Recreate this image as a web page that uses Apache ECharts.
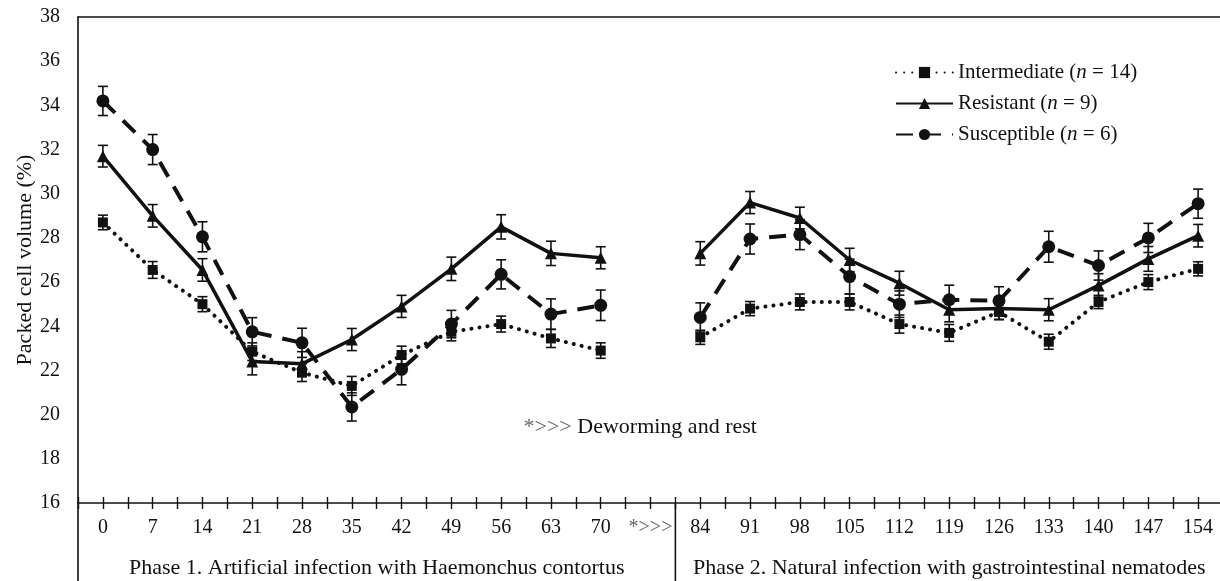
<!DOCTYPE html>
<html>
<head>
<meta charset="utf-8">
<script src="https://cdn.jsdelivr.net/npm/echarts@6/dist/echarts.min.js"></script>
<style>
  html, body { margin: 0; padding: 0; background: #fff; }
  #chart { width: 1220px; height: 581px; }
</style>
</head>
<body>
<div id="chart"></div>
<script>
// days post infection, the *>>> slot is the deworming gap
const categories = ['0', '7', '14', '21', '28', '35', '42', '49', '56', '63', '70', '*>>>',
  '84', '91', '98', '105', '112', '119', '126', '133', '140', '147', '154']

const intermediate = [28.7, 26.55, 25.0, 22.85, 21.9, 21.3, 22.7, 23.75, 24.1, 23.45, 22.9, null,
  23.5, 24.8, 25.1, 25.1, 24.1, 23.7, 24.65, 23.3, 25.1, 26.0, 26.6]
const intermediateErr = [0.33, 0.38, 0.34, 0.4, 0.4, 0.43, 0.4, 0.41, 0.36, 0.41, 0.35, null,
  0.32, 0.32, 0.36, 0.36, 0.41, 0.38, 0.34, 0.34, 0.3, 0.34, 0.32]

const resistant = [31.7, 29.0, 26.55, 22.4, 22.3, 23.4, 24.9, 26.6, 28.5, 27.3, 27.1, null,
  27.3, 29.6, 28.9, 27.0, 25.95, 24.75, 24.8, 24.75, 25.85, 27.05, 28.1]
const resistantErr = [0.49, 0.51, 0.51, 0.6, 0.55, 0.5, 0.5, 0.53, 0.55, 0.55, 0.5, null,
  0.53, 0.5, 0.49, 0.53, 0.54, 0.55, 0.5, 0.5, 0.53, 0.56, 0.51]

const susceptible = [34.2, 32.0, 28.05, 23.75, 23.25, 20.35, 22.05, 24.1, 26.35, 24.55, 24.95, null,
  24.4, 27.95, 28.15, 26.25, 25.0, 25.2, 25.15, 27.6, 26.75, 28.0, 29.55]
const susceptibleErr = [0.66, 0.68, 0.68, 0.64, 0.66, 0.64, 0.7, 0.62, 0.66, 0.69, 0.69, null,
  0.66, 0.68, 0.68, 0.79, 0.6, 0.66, 0.64, 0.7, 0.66, 0.66, 0.66]

const legendNames = {
  'Intermediate': 'Intermediate ({i|n} = 14)',
  'Resistant': 'Resistant ({i|n} = 9)',
  'Susceptible': 'Susceptible ({i|n} = 6)'
}
const phaseLabels = ['Phase 1. Artificial infection with Haemonchus contortus',
  'Phase 2. Natural infection with gastrointestinal nematodes']
const noteText = '{g|*>>>} Deworming and rest'

const FONT = 'Liberation Serif'
const INK = '#111'
const GREY = '#666'

function pairs(values) {
  return values.map((v, i) => [i, v])
}
function errPairs(values, errs) {
  return values.map((v, i) => v == null ? [i, null, null] : [i, v - errs[i], v + errs[i]])
}

function errorBar(params, api) {
  if (api.value(1) == null || isNaN(api.value(1))) return
  let lo = api.coord([api.value(0), api.value(1)])
  let hi = api.coord([api.value(0), api.value(2)])
  let w = 5
  let style = { stroke: INK, lineWidth: 1.6 }
  return {
    type: 'group',
    children: [
      { type: 'line', shape: { x1: lo[0], y1: lo[1], x2: hi[0], y2: hi[1] }, style: style },
      { type: 'line', shape: { x1: lo[0] - w, y1: lo[1], x2: lo[0] + w, y2: lo[1] }, style: style },
      { type: 'line', shape: { x1: hi[0] - w, y1: hi[1], x2: hi[0] + w, y2: hi[1] }, style: style }
    ]
  }
}

let chart = echarts.init(document.querySelector('#chart'))

let xBase = {
  type: 'value',
  min: -0.5,
  max: 22.5,
  interval: 0.5,
  splitLine: { show: false }
}

let option = {
  backgroundColor: '#fff',
  animation: false,
  textStyle: { fontFamily: FONT, color: INK },
  grid: { left: 78, top: 17, right: -3, bottom: 78, containLabel: false, outerBoundsMode: 'none' },
  legend: {
    orient: 'vertical',
    left: 890,
    top: 57,
    itemWidth: 57,
    itemHeight: 14,
    itemGap: 10,
    data: ['Intermediate', 'Resistant', 'Susceptible'],
    formatter: name => legendNames[name],
    textStyle: {
      fontFamily: FONT, fontSize: 21, color: INK,
      rich: { i: { fontFamily: FONT, fontSize: 21, fontStyle: 'italic', color: INK } }
    }
  },
  xAxis: [
    Object.assign({}, xBase, {
      position: 'bottom',
      axisLine: { show: true, lineStyle: { color: INK, width: 1.6 } },
      axisTick: { show: true, inside: false, length: 6, lineStyle: { color: INK, width: 1.4 } },
      axisLabel: {
        margin: 15,
        fontFamily: FONT,
        fontSize: 20,
        color: INK,
        formatter: function (v) {
          if (!Number.isInteger(v) || categories[v] == null) return ''
          return categories[v].indexOf('*') === 0 ? '{g|' + categories[v] + '}' : categories[v]
        },
        rich: { g: { fontFamily: FONT, fontSize: 20, color: GREY } }
      }
    }),
    Object.assign({}, xBase, {
      position: 'bottom',
      axisLine: { show: false },
      axisTick: { show: true, inside: true, length: 6, lineStyle: { color: INK, width: 1.4 } },
      axisLabel: { show: false }
    }),
    Object.assign({}, xBase, {
      position: 'top',
      axisLine: { show: true, lineStyle: { color: INK, width: 1.6 } },
      axisTick: { show: false },
      axisLabel: { show: false }
    })
  ],
  yAxis: {
    type: 'value',
    min: 16,
    max: 38,
    interval: 2,
    name: 'Packed cell volume (%)',
    nameLocation: 'middle',
    nameGap: 42,
    nameMoveOverlap: false,
    nameTextStyle: { fontFamily: FONT, fontSize: 22, color: INK },
    axisLine: { show: true, onZero: false, lineStyle: { color: INK, width: 1.6 } },
    axisTick: { show: false },
    splitLine: { show: false },
    axisLabel: { margin: 18, fontFamily: FONT, fontSize: 20, color: INK }
  },
  series: [
    {
      name: 'Intermediate',
      type: 'line',
      data: pairs(intermediate),
      symbol: 'rect',
      symbolSize: 10,
      itemStyle: { color: INK },
      lineStyle: { color: INK, width: 4, type: [0.1, 8], cap: 'round' },
      z: 3
    },
    {
      name: 'Resistant',
      type: 'line',
      data: pairs(resistant),
      symbol: 'triangle',
      symbolSize: 12,
      itemStyle: { color: INK },
      lineStyle: { color: INK, width: 3.5, type: 'solid' },
      z: 3
    },
    {
      name: 'Susceptible',
      type: 'line',
      data: pairs(susceptible),
      symbol: 'circle',
      symbolSize: 13,
      itemStyle: { color: INK },
      lineStyle: { color: INK, width: 4, type: [17, 11] },
      z: 3
    },
    {
      type: 'custom', name: 'err-i', renderItem: errorBar,
      data: errPairs(intermediate, intermediateErr), encode: { x: 0, y: [1, 2] }, z: 4
    },
    {
      type: 'custom', name: 'err-r', renderItem: errorBar,
      data: errPairs(resistant, resistantErr), encode: { x: 0, y: [1, 2] }, z: 4
    },
    {
      type: 'custom', name: 'err-s', renderItem: errorBar,
      data: errPairs(susceptible, susceptibleErr), encode: { x: 0, y: [1, 2] }, z: 4
    }
  ]
}

chart.setOption(option)

// frame under the axis and the phase captions, placed from the axis scale
let axisY = chart.convertToPixel({ yAxisIndex: 0 }, 16)
let xLeft = chart.convertToPixel({ xAxisIndex: 0 }, -0.5)
let xSep = chart.convertToPixel({ xAxisIndex: 0 }, 11.5)
let xRight = chart.convertToPixel({ xAxisIndex: 0 }, 22.5)
let noteX = chart.convertToPixel({ xAxisIndex: 0 }, 8.45)
let noteY = chart.convertToPixel({ yAxisIndex: 0 }, 19.45)
let frameStyle = { stroke: INK, lineWidth: 1.6 }
let textFont = '22px "Liberation Serif"'

chart.setOption({
  graphic: [
    { type: 'line', shape: { x1: xLeft, y1: axisY, x2: xLeft, y2: 581 }, style: frameStyle },
    { type: 'line', shape: { x1: xSep, y1: axisY, x2: xSep, y2: 581 }, style: frameStyle },
    {
      type: 'text', x: (xLeft + xSep) / 2, y: 568,
      style: { text: phaseLabels[0], font: textFont, fill: INK, align: 'center', verticalAlign: 'middle' }
    },
    {
      type: 'text', x: (xSep + xRight) / 2, y: 568,
      style: { text: phaseLabels[1], font: textFont, fill: INK, align: 'center', verticalAlign: 'middle' }
    },
    {
      type: 'text', x: noteX, y: noteY,
      style: {
        text: noteText, font: textFont, fill: INK, align: 'left', verticalAlign: 'middle',
        rich: { g: { font: textFont, fill: GREY } }
      }
    }
  ]
})

window.onresize = function () {
  chart.resize()
}
</script>
</body>
</html>
